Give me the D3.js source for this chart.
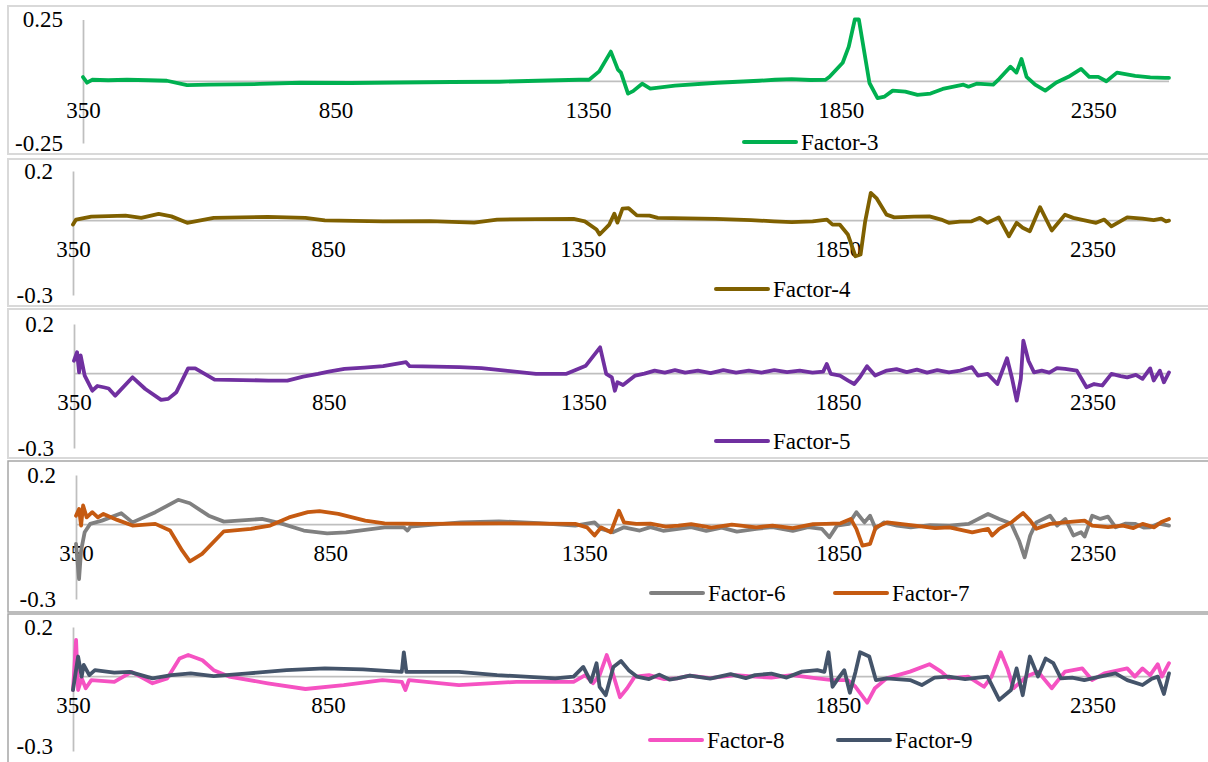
<!DOCTYPE html>
<html><head><meta charset="utf-8">
<script src="https://cdn.jsdelivr.net/npm/d3@7"></script>
<style>
html,body{margin:0;padding:0;background:#fff;}
svg{display:block;}
text{font-family:"Liberation Serif","Times New Roman",serif;}
</style></head>
<body>
<svg id="chart" width="1208" height="762"></svg>
<script>
// ---------- DATA (wavelength nm, loading) ----------
const xTicks = [350, 850, 1350, 1850, 2350];
const xDomain = [350, 2500];
const yDomainP1 = [-0.25, 0.25];
const yDomainOther = [-0.3, 0.2];
const yTickLabelsP1 = ["0.25", "-0.25"];
const yTickLabelsOther = ["0.2", "-0.3"];
const seriesNames = ["Factor-3","Factor-4","Factor-5","Factor-6","Factor-7","Factor-8","Factor-9"];

const factor3 = [[350,0.017],[354,0.006],[358,-0.006],[368,0.006],[400,0.004],[437,0.006],[480,0.004],[516,0.002],[556,-0.016],[600,-0.014],[646,-0.013],[700,-0.011],[779,-0.006],[880,-0.007],[976,-0.005],[1080,-0.003],[1174,-0.002],[1250,0.002],[1332,0.006],[1352,0.006],[1372,0.04],[1395,0.12],[1409,0.047],[1415,0.035],[1429,-0.05],[1439,-0.04],[1457,-0.01],[1473,-0.03],[1522,-0.018],[1605,-0.006],[1688,0.002],[1720,0.006],[1753,0.009],[1790,0.005],[1820,0.006],[1828,0.018],[1854,0.075],[1866,0.14],[1878,0.25],[1886,0.25],[1907,-0.007],[1923,-0.068],[1937,-0.062],[1953,-0.038],[1978,-0.042],[2002,-0.055],[2028,-0.05],[2052,-0.031],[2093,-0.014],[2103,-0.022],[2119,-0.01],[2152,-0.014],[2164,0.01],[2186,0.059],[2198,0.035],[2208,0.09],[2218,0.018],[2235,-0.014],[2255,-0.038],[2277,-0.005],[2301,0.018],[2326,0.05],[2342,0.018],[2360,0.018],[2376,0],[2397,0.035],[2433,0.022],[2463,0.016],[2492,0.014],[2500,0.014]];

const factor4 = [[350,-0.016],[356,0.004],[386,0.016],[420,0.018],[453,0.02],[484,0.011],[518,0.027],[543,0.017],[574,-0.009],[626,0.011],[732,0.015],[806,0.011],[844,0.001],[900,-0.001],[958,-0.003],[1050,-0.002],[1137,-0.008],[1182,0.004],[1260,0.006],[1332,0.007],[1354,-0.003],[1377,-0.036],[1383,-0.056],[1402,-0.016],[1412,0.028],[1418,-0.008],[1428,0.048],[1440,0.05],[1456,0.021],[1481,0.02],[1497,0.011],[1611,0.007],[1680,0.002],[1725,-0.003],[1760,-0.006],[1801,-0.003],[1829,0.004],[1840,-0.016],[1854,-0.016],[1870,-0.056],[1885,-0.144],[1895,-0.137],[1904,-0.003],[1915,0.112],[1926,0.091],[1946,0.024],[1961,0.013],[2000,0.016],[2030,0.017],[2053,0.004],[2068,-0.009],[2090,-0.004],[2113,-0.003],[2129,0.011],[2144,-0.009],[2166,0.013],[2186,-0.063],[2201,-0.009],[2213,-0.029],[2227,-0.043],[2247,0.054],[2270,-0.04],[2296,0.024],[2312,0.011],[2357,-0.009],[2373,0.004],[2387,-0.023],[2418,0.013],[2448,0.008],[2470,0.002],[2485,0.008],[2494,-0.003],[2500,0]];

const factor5 = [[350,0.052],[356,0.086],[360,0.005],[363,0.073],[371,-0.008],[386,-0.069],[396,-0.05],[408,-0.055],[418,-0.06],[431,-0.089],[465,-0.015],[490,-0.062],[521,-0.106],[535,-0.102],[551,-0.075],[574,0.021],[588,0.021],[626,-0.024],[680,-0.026],[732,-0.028],[769,-0.028],[800,-0.012],[829,-0.001],[850,0.008],[881,0.019],[920,0.024],[957,0.03],[1002,0.046],[1009,0.03],[1060,0.028],[1107,0.026],[1150,0.022],[1197,0.012],[1257,-0.001],[1317,-0.001],[1355,0.032],[1383,0.106],[1395,-0.001],[1406,-0.015],[1412,-0.069],[1417,-0.035],[1428,-0.046],[1452,-0.008],[1470,0.0],[1490,0.012],[1510,0.004],[1530,0.014],[1550,0.004],[1575,0.012],[1600,0.002],[1625,0.014],[1650,0.004],[1675,0.012],[1700,0.004],[1725,0.014],[1750,0.006],[1775,0.012],[1800,0.004],[1821,0.008],[1828,0.039],[1836,-0.001],[1854,-0.008],[1870,-0.028],[1882,-0.042],[1893,-0.015],[1907,0.03],[1923,-0.008],[1946,0.012],[1965,0.018],[1985,0.006],[2005,0.016],[2025,0.004],[2045,0.014],[2068,0.005],[2090,0.012],[2113,0.026],[2125,-0.008],[2144,-0.001],[2163,-0.042],[2182,0.062],[2192,-0.021],[2201,-0.109],[2209,-0.021],[2214,0.133],[2224,0.052],[2235,0.005],[2250,0.012],[2265,0.004],[2280,0.022],[2296,0.019],[2319,0.012],[2338,-0.055],[2353,-0.042],[2369,-0.048],[2387,-0.001],[2405,-0.01],[2418,-0.015],[2435,-0.005],[2448,-0.021],[2463,0.021],[2470,-0.028],[2482,0.012],[2490,-0.035],[2500,0.005]];

const factor6 = [[350,-0.078],[356,-0.22],[360,-0.105],[367,-0.031],[378,0.003],[401,0.016],[439,0.046],[461,0.009],[506,0.05],[551,0.1],[574,0.086],[611,0.036],[641,0.012],[716,0.023],[753,0.005],[798,-0.024],[844,-0.035],[881,-0.031],[957,-0.011],[995,-0.011],[1002,-0.024],[1008,-0.008],[1107,0.009],[1182,0.013],[1260,0.006],[1332,-0.004],[1370,0.009],[1383,-0.017],[1406,-0.031],[1428,-0.011],[1459,-0.024],[1480,-0.01],[1505,-0.025],[1535,-0.017],[1560,-0.01],[1590,-0.025],[1620,-0.012],[1650,-0.028],[1688,-0.017],[1720,-0.01],[1760,-0.025],[1790,-0.01],[1817,-0.017],[1832,-0.051],[1847,-0.004],[1870,0.003],[1885,0.05],[1901,0.009],[1912,0.036],[1923,-0.017],[1939,0.009],[1965,-0.004],[1992,-0.011],[2030,-0.002],[2068,-0.004],[2106,0.003],[2144,0.043],[2166,0.023],[2190,0.003],[2205,-0.065],[2216,-0.132],[2227,-0.044],[2239,0.009],[2266,0.036],[2280,-0.004],[2296,0.023],[2312,-0.044],[2327,-0.031],[2334,-0.048],[2349,0.036],[2365,0.023],[2380,0.032],[2395,-0.011],[2415,0.004],[2433,0.003],[2450,-0.012],[2463,-0.011],[2480,0.004],[2500,-0.004]];

const factor7 = [[350,0.036],[356,0.063],[360,-0.004],[364,0.077],[371,0.029],[382,0.05],[393,0.029],[404,0.043],[431,0.019],[461,-0.004],[506,0.003],[535,-0.024],[559,-0.105],[574,-0.148],[598,-0.118],[641,-0.027],[694,-0.017],[732,-0.004],[769,0.029],[806,0.05],[829,0.054],[866,0.043],[919,0.016],[957,0.005],[1032,0.003],[1182,0.005],[1332,0.003],[1355,-0.011],[1370,-0.044],[1383,-0.011],[1402,-0.031],[1418,0.056],[1428,0.009],[1452,0.003],[1480,0.004],[1510,-0.008],[1535,-0.004],[1560,0.002],[1600,-0.012],[1640,0.0],[1688,-0.011],[1720,-0.004],[1760,-0.014],[1800,0.002],[1825,0.003],[1854,0.005],[1874,0.023],[1885,-0.017],[1897,-0.085],[1912,-0.078],[1923,-0.011],[1946,0.009],[2000,-0.004],[2040,-0.014],[2068,-0.011],[2113,-0.031],[2144,-0.017],[2152,-0.044],[2166,-0.017],[2190,0.009],[2213,0.047],[2227,0.016],[2239,-0.017],[2266,0.003],[2300,0.01],[2334,0.016],[2349,-0.004],[2380,-0.01],[2409,-0.004],[2430,-0.014],[2448,0.003],[2471,-0.011],[2485,0.01],[2500,0.023]];

const factor8 = [[350,-0.054],[356,0.148],[360,-0.054],[367,-0.007],[375,-0.047],[386,-0.014],[431,-0.021],[465,0.019],[506,-0.027],[535,-0.007],[559,0.073],[576,0.087],[604,0.066],[626,0.026],[656,0],[732,-0.027],[806,-0.05],[881,-0.034],[957,-0.014],[995,-0.021],[1002,-0.054],[1009,-0.014],[1107,-0.034],[1220,-0.021],[1332,-0.021],[1355,0.006],[1370,-0.027],[1383,0.006],[1397,0.087],[1406,0.033],[1423,-0.083],[1437,-0.047],[1452,0],[1480,0.006],[1510,-0.01],[1535,-0.007],[1560,0.004],[1600,-0.006],[1650,0.006],[1688,0],[1720,-0.004],[1760,0.006],[1810,-0.007],[1840,-0.014],[1870,-0.014],[1885,-0.041],[1908,-0.105],[1923,-0.047],[1946,-0.007],[1992,0.02],[2030,0.05],[2053,0.02],[2068,-0.007],[2106,0],[2137,-0.041],[2152,0],[2170,0.098],[2183,0.033],[2195,-0.047],[2206,-0.027],[2220,0],[2243,0.02],[2270,-0.047],[2296,0.02],[2330,0.033],[2349,-0.014],[2373,0.013],[2418,0.033],[2433,0],[2448,0.033],[2463,0.006],[2478,0.05],[2486,0],[2500,0.054]];

const factor9 = [[350,-0.054],[360,0.081],[367,0],[371,0.047],[382,0.006],[393,0.026],[431,0.016],[461,0.019],[506,-0.007],[543,0.006],[581,0.013],[626,0.002],[694,0.013],[769,0.026],[844,0.033],[919,0.029],[995,0.019],[999,0.098],[1004,0.019],[1107,0.019],[1182,0.006],[1296,-0.007],[1332,0],[1351,0.039],[1366,-0.021],[1377,0.054],[1383,-0.041],[1395,-0.075],[1410,0.039],[1425,0.063],[1440,0.026],[1456,0],[1480,-0.01],[1500,0.008],[1520,-0.012],[1535,-0.007],[1560,0.004],[1600,-0.008],[1640,0.01],[1670,-0.006],[1688,0.006],[1720,0.012],[1750,-0.004],[1780,0.02],[1810,0.026],[1824,0.019],[1832,0.098],[1840,-0.041],[1851,-0.007],[1863,0.026],[1874,-0.065],[1885,0.019],[1894,0.098],[1912,0.081],[1925,-0.014],[1946,-0.007],[1992,-0.014],[2015,-0.034],[2040,-0.004],[2068,0],[2100,-0.01],[2144,0],[2167,-0.094],[2190,-0.054],[2201,0.033],[2213,-0.075],[2227,0.081],[2243,0],[2258,0.073],[2273,0.054],[2288,-0.007],[2310,-0.004],[2334,-0.014],[2360,-0.002],[2395,0.013],[2418,-0.014],[2448,-0.034],[2465,-0.01],[2478,0],[2490,-0.07],[2500,0.013]];

const colors = {"Factor-3":"#00b050","Factor-4":"#7f6000","Factor-5":"#7030a0","Factor-6":"#808080","Factor-7":"#c55a11","Factor-8":"#f552c2","Factor-9":"#44546a"};

// ---------- LAYOUT ----------
const panels = [
  {top:6,  bottom:154, border:"#d9d9d9", bw:2,   axisX:83, yTop:19.5, yBot:143, yDomain:yDomainP1, yLabels:yTickLabelsP1,
   series:[{name:"Factor-3", data:factor3}], legend:[{name:"Factor-3", x:744}], legendY:142},
  {top:159,bottom:306, border:"#d9d9d9", bw:2,   axisX:73, yTop:171, yBot:295, yDomain:yDomainOther, yLabels:yTickLabelsOther,
   series:[{name:"Factor-4", data:factor4}], legend:[{name:"Factor-4", x:716}], legendY:289},
  {top:309,bottom:458, border:"#d9d9d9", bw:2,   axisX:74, yTop:324, yBot:448, yDomain:yDomainOther, yLabels:yTickLabelsOther,
   series:[{name:"Factor-5", data:factor5}], legend:[{name:"Factor-5", x:716}], legendY:441},
  {top:461,bottom:612, border:"#a6a6a6", bw:1.5, axisX:76, yTop:475, yBot:599, yDomain:yDomainOther, yLabels:yTickLabelsOther,
   series:[{name:"Factor-6", data:factor6},{name:"Factor-7", data:factor7}], legend:[{name:"Factor-6", x:651},{name:"Factor-7", x:835}], legendY:593},
  {top:614,bottom:775, border:"#a6a6a6", bw:1.5, axisX:73, yTop:627, yBot:751, yDomain:yDomainOther, yLabels:yTickLabelsOther, minLabelShift:-5,
   series:[{name:"Factor-8", data:factor8},{name:"Factor-9", data:factor9}], legend:[{name:"Factor-8", x:650},{name:"Factor-9", x:838}], legendY:740}
];
const xRight = 1169;
const fontSize = 23;

const svg = d3.select("#chart");

panels.forEach(p => {
  const g = svg.append("g");
  g.append("rect").attr("x",8).attr("y",p.top).attr("width",1230).attr("height",p.bottom-p.top)
    .attr("fill","#fff").attr("stroke",p.border).attr("stroke-width",p.bw);

  const x = d3.scaleLinear().domain(xDomain).range([p.axisX, xRight]);
  const y = d3.scaleLinear().domain(p.yDomain).range([p.yBot, p.yTop]);
  const y0 = y(0);

  // zero (horizontal) axis line
  g.append("line").attr("x1",p.axisX).attr("x2",xRight).attr("y1",y0).attr("y2",y0)
    .attr("stroke","#bfbfbf").attr("stroke-width",1.75);

  // vertical axis with min/max labels
  const yAxis = d3.axisLeft(y).tickValues([p.yDomain[1], p.yDomain[0]])
    .tickFormat((d,i)=>p.yLabels[i]).tickSizeInner(0).tickSizeOuter(0).tickPadding(20);
  const ya = g.append("g").attr("transform",`translate(${p.axisX},0)`).call(yAxis);
  ya.select(".domain").attr("stroke","#bfbfbf").attr("stroke-width",1.75);
  ya.selectAll("text").attr("font-family","Liberation Serif").attr("font-size",fontSize).attr("fill","#000");
  if (p.minLabelShift) {
    ya.selectAll(".tick").filter(d => d === p.yDomain[0]).select("text").attr("y", p.minLabelShift);
  }

  // x tick labels
  const xAxis = d3.axisBottom(x).tickValues(xTicks).tickFormat(d3.format("d")).tickSizeInner(0).tickSizeOuter(0).tickPadding(0);
  const xa = g.append("g").attr("transform",`translate(0,${y0+28.5})`).call(xAxis);
  xa.select(".domain").remove();
  xa.selectAll("text").attr("font-family","Liberation Serif").attr("font-size",fontSize).attr("fill","#000")
    .attr("dy","0.35em").attr("y",0);

  // series
  const line = d3.line().x(d=>x(d[0])).y(d=>y(d[1])).curve(d3.curveLinear);
  p.series.forEach(s => {
    g.append("path").datum(s.data).attr("d",line).attr("fill","none")
      .attr("stroke",colors[s.name]).attr("stroke-width",3.8)
      .attr("stroke-linejoin","round").attr("stroke-linecap","round");
  });

  // legend
  p.legend.forEach(l => {
    g.append("line").attr("x1",l.x).attr("x2",l.x+52).attr("y1",p.legendY).attr("y2",p.legendY)
      .attr("stroke",colors[l.name]).attr("stroke-width",4).attr("stroke-linecap","round");
    g.append("text").attr("x",l.x+57).attr("y",p.legendY).attr("dy","0.35em")
      .attr("font-size",fontSize).attr("fill","#000").text(l.name);
  });
});
</script>
</body></html>
